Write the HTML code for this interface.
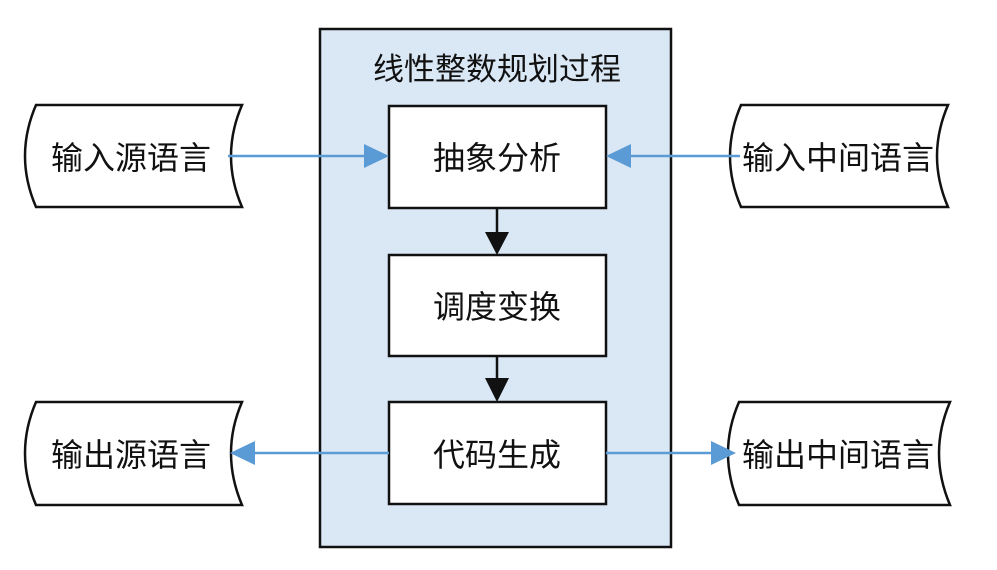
<!DOCTYPE html>
<html><head><meta charset="utf-8"><style>
html,body{margin:0;padding:0;background:#fff;}
svg text{font-family:"Liberation Sans","Noto Sans CJK SC",sans-serif;fill:#111;}
</style></head><body>
<svg width="997" height="565" viewBox="0 0 997 565" xmlns="http://www.w3.org/2000/svg">
<rect x="320" y="29" width="351" height="518" fill="#dae8f5" stroke="#111" stroke-width="2.5"/>
<text x="497" y="80" font-size="31" text-anchor="middle">线性整数规划过程</text>
<rect x="389" y="106" width="217" height="102" fill="#fff" stroke="#111" stroke-width="2.5"/>
<rect x="389" y="255" width="217" height="101" fill="#fff" stroke="#111" stroke-width="2.5"/>
<rect x="389" y="402" width="217" height="102" fill="#fff" stroke="#111" stroke-width="2.5"/>
<text x="497" y="169" font-size="32" text-anchor="middle">抽象分析</text>
<text x="497" y="318" font-size="32" text-anchor="middle">调度变换</text>
<text x="497" y="466" font-size="32" text-anchor="middle">代码生成</text>
<line x1="497" y1="208" x2="497" y2="236" stroke="#111" stroke-width="2.5"/>
<path d="M485,232 L509,232 L497,255 z" fill="#111"/>
<line x1="497" y1="356" x2="497" y2="382" stroke="#111" stroke-width="2.5"/>
<path d="M485,378 L509,378 L497,402 z" fill="#111"/>
<g fill="#fff" stroke="#111" stroke-width="2.5">
<path d="M36,105 L242,105 Q220,156 242,207 L36,207 Q14,156 36,105 z"/>
<path d="M741,105 L948,105 Q926,156 948,207 L741,207 Q719,156 741,105 z"/>
<path d="M36,402 L242,402 Q220,453 242,505 L36,505 Q14,453 36,402 z"/>
<path d="M739,402 L950,402 Q928,453 950,505 L739,505 Q717,453 739,402 z"/>
</g>
<text x="131" y="169" font-size="32" text-anchor="middle">输入源语言</text>
<text x="838" y="169" font-size="32" text-anchor="middle">输入中间语言</text>
<text x="131" y="466" font-size="32" text-anchor="middle">输出源语言</text>
<text x="838" y="466" font-size="32" text-anchor="middle">输出中间语言</text>
<g stroke="#5b9bd5" stroke-width="2.5" fill="none">
<line x1="228" y1="156" x2="365" y2="156"/>
<line x1="740" y1="156" x2="630" y2="156"/>
<line x1="389" y1="453" x2="254" y2="453"/>
<line x1="606" y1="453" x2="712" y2="453"/>
</g>
<g fill="#5b9bd5">
<path d="M364,144 L389,156 L364,168 z"/>
<path d="M631,144 L606,156 L631,168 z"/>
<path d="M255,441 L230,453 L255,465 z"/>
<path d="M711,441 L736,453 L711,465 z"/>
</g>
</svg>
</body></html>
